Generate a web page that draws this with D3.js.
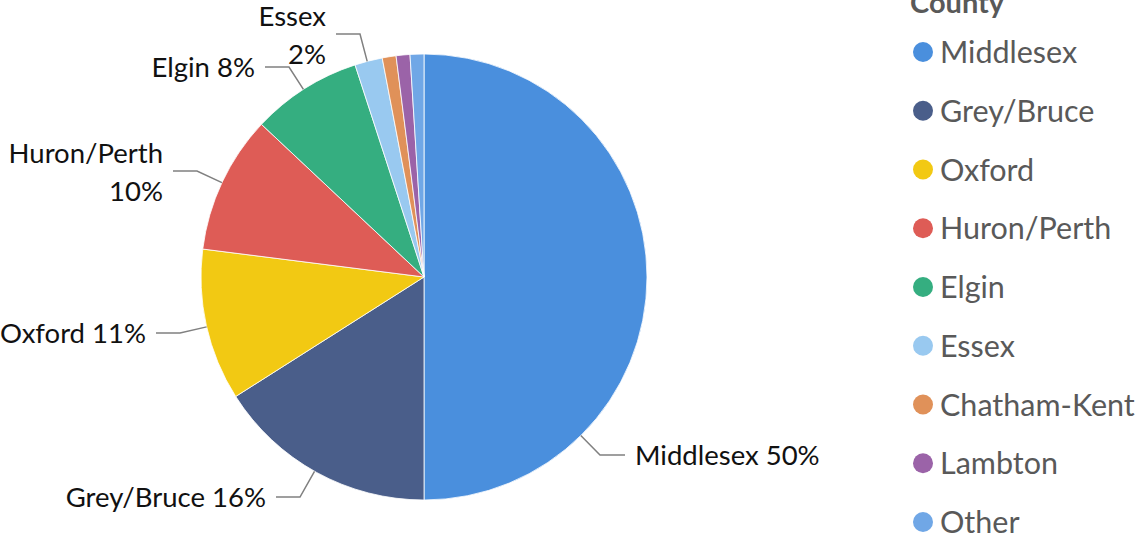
<!DOCTYPE html>
<html>
<head>
<meta charset="utf-8">
<script src="https://cdn.jsdelivr.net/npm/d3@7"></script>
<style>
  body { margin: 0; background: #fff; }
  svg text { font-family: Lato, "Open Sans", sans-serif; }
</style>
</head>
<body>
<svg id="chart" width="1138" height="540"></svg>
<script>
// data (percent of total)
var counties = ["Middlesex", "Grey/Bruce", "Oxford", "Huron/Perth", "Elgin", "Essex", "Chatham-Kent", "Lambton", "Other"];
var shares = [50, 16, 11, 10, 8, 2, 1, 1, 1];
var colors = ["#4a8fdd", "#4a5e8a", "#f2c913", "#de5c56", "#35ae80", "#99c9f0", "#e09159", "#9b63a8", "#70a7e6"];
var legendTitle = "County";

// where each data label's leader elbow sits, relative to the pie centre (layout, not data)
var labelLayout = {
    "Middlesex":   { ex: 176, ey: 178, side: "right", lines: 1 },
    "Grey/Bruce":  { ex: -124, ey: 220, side: "left", lines: 1 },
    "Oxford":      { ex: -244, ey: 56, side: "left", lines: 1 },
    "Huron/Perth": { ex: -227, ey: -106, side: "left", lines: 2 },
    "Elgin":       { ex: -135, ey: -210, side: "left", lines: 1 },
    "Essex":       { ex: -64, ey: -243, side: "left", lines: 2 }
};

var cx = 424, cy = 277, radius = 223;
var svg = d3.select("#chart");

var data = counties.map(function (c, i) {
    return { county: c, value: shares[i], color: colors[i] };
});

var pie = d3.pie().sort(null).value(function (d) { return d.value; });
var arc = d3.arc().innerRadius(0).outerRadius(radius);

var g = svg.append("g").attr("transform", "translate(" + cx + "," + cy + ")");

g.selectAll("path")
    .data(pie(data))
    .enter()
    .append("path")
    .attr("d", arc)
    .attr("fill", function (d) { return d.data.color; })
    .attr("stroke", "#ffffff")
    .attr("stroke-width", 0.8);

// data labels with leader lines
var total = d3.sum(shares);
data.forEach(function (d) {
    var lay = labelLayout[d.county];
    if (!lay) return;
    var pct = Math.round(d.value / total * 100) + "%";
    var len = Math.sqrt(lay.ex * lay.ex + lay.ey * lay.ey);
    var sx = lay.ex / len * radius, sy = lay.ey / len * radius;
    var hx = lay.side == "right" ? lay.ex + 25 : lay.ex - 24;
    g.append("polyline")
        .attr("points", [[sx, sy], [lay.ex, lay.ey], [hx, lay.ey]].map(function (p) { return p.join(","); }).join(" "))
        .attr("fill", "none")
        .attr("stroke", "#808080")
        .attr("stroke-width", 1.5);
    var tx = lay.side == "right" ? hx + 10 : hx - 10;
    var anchor = lay.side == "right" ? "start" : "end";
    var t = g.append("text")
        .attr("x", tx)
        .attr("text-anchor", anchor)
        .attr("fill", "#111111")
        .style("font-size", "27.5px");
    if (lay.lines == 2) {
        t.append("tspan").attr("x", tx).attr("y", lay.ey - 8).text(d.county);
        t.append("tspan").attr("x", tx).attr("y", lay.ey + 30).text(pct);
    } else {
        t.attr("y", lay.ey + 10).text(d.county + " " + pct);
    }
});

// legend
var legend = svg.append("g");
legend.append("text")
    .attr("x", 910)
    .attr("y", 13)
    .attr("fill", "#595959")
    .style("font-size", "29px")
    .style("font-weight", "bold")
    .text(legendTitle);

var ly = d3.scalePoint().domain(counties).range([52, 522]);
var items = legend.selectAll("g.item")
    .data(data)
    .enter()
    .append("g")
    .attr("class", "item")
    .attr("transform", function (d) { return "translate(0," + ly(d.county) + ")"; });
items.append("circle")
    .attr("cx", 923)
    .attr("cy", 0)
    .attr("r", 10)
    .attr("fill", function (d) { return d.color; });
items.append("text")
    .attr("x", 940)
    .attr("y", 11)
    .attr("fill", "#595959")
    .style("font-size", "30.5px")
    .text(function (d) { return d.county; });
</script>
</body>
</html>
